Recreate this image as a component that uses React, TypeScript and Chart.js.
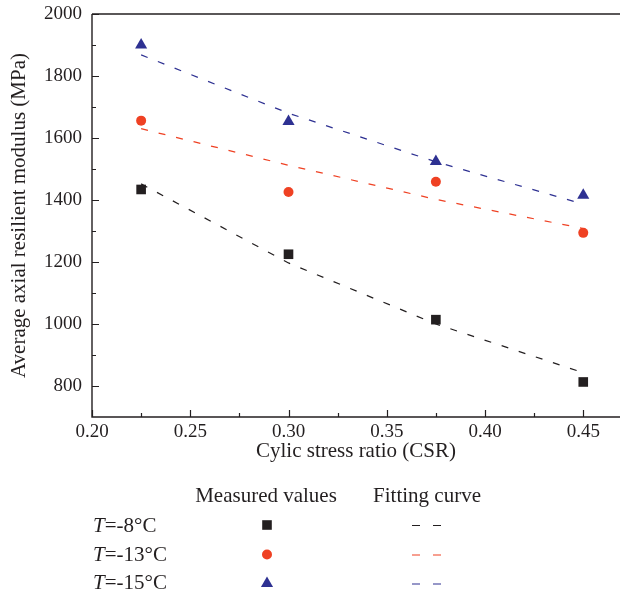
import React, { useEffect, useRef } from 'react';
import { Chart, registerables } from 'chart.js';

Chart.register(...registerables);

// ---- data ----
const csr = [0.225, 0.3, 0.375, 0.45];
const measuredM8 = [1434, 1225, 1014, 813];
const measuredM13 = [1656, 1426, 1459, 1294];
const measuredM15 = [1900, 1653, 1524, 1415];
const fitM8 = [1452, 1197, 1000, 843];
const fitM13 = [1630, 1512, 1402, 1308];
const fitM15 = [1868, 1680, 1523, 1387];
const seriesTemps = ['-8', '-13', '-15'];
const seriesColors = ['#231f20', '#ef4123', '#2e3192'];
const seriesMarkers = ['rect', 'circle', 'triangle'];
const xTicks = [0.2, 0.25, 0.3, 0.35, 0.4, 0.45];
const xTickLabels = ['0.20', '0.25', '0.30', '0.35', '0.40', '0.45'];
const xMinorTicks = [0.225, 0.275, 0.325, 0.375, 0.425];
const yTicks = [800, 1000, 1200, 1400, 1600, 1800, 2000];
const yTickLabels = ['800', '1000', '1200', '1400', '1600', '1800', '2000'];
const yMinorTicks = [900, 1100, 1300, 1500, 1700, 1900];
const xTitle = 'Cylic stress ratio (CSR)';
const yTitle = 'Average axial resilient modulus (MPa)';
const legendHeaders = ['Measured values', 'Fitting curve'];

const FONT = '"Liberation Serif", "Times New Roman", serif';
const INK = '#231f20';

const pts = (ys: number[]) => csr.map((x, i) => ({ x, y: ys[i] }));

function drawMarker(ctx: CanvasRenderingContext2D, style: string, x: number, y: number, color: string) {
  ctx.save();
  ctx.fillStyle = color;
  ctx.beginPath();
  if (style === 'rect') {
    ctx.rect(x - 4.8, y - 4.8, 9.6, 9.6);
  } else if (style === 'circle') {
    ctx.arc(x, y, 5, 0, Math.PI * 2);
  } else {
    const r = 7;
    ctx.moveTo(x, y - r);
    ctx.lineTo(x + Math.sin((2 * Math.PI) / 3) * r, y + r / 2);
    ctx.lineTo(x - Math.sin((2 * Math.PI) / 3) * r, y + r / 2);
    ctx.closePath();
  }
  ctx.fill();
  ctx.restore();
}

const framePlugin = {
  id: 'frame',
  afterDatasetsDraw(chart: any) {
    const { ctx, chartArea } = chart;
    const xs = chart.scales.x;
    const ys = chart.scales.y;
    const { left, right, top, bottom } = chartArea;
    ctx.save();
    ctx.strokeStyle = INK;
    ctx.lineWidth = 1.4;
    // axes
    ctx.beginPath();
    ctx.moveTo(left, top);
    ctx.lineTo(left, bottom);
    ctx.lineTo(right, bottom);
    ctx.stroke();
    ctx.beginPath();
    ctx.moveTo(left, top);
    ctx.lineTo(right, top);
    ctx.stroke();
    // ticks (inward)
    ctx.lineWidth = 1.2;
    ctx.beginPath();
    xTicks.forEach((v) => {
      const px = Math.round(xs.getPixelForValue(v)) + 0.5;
      ctx.moveTo(px, bottom);
      ctx.lineTo(px, bottom - 7);
    });
    xMinorTicks.forEach((v) => {
      const px = Math.round(xs.getPixelForValue(v)) + 0.5;
      ctx.moveTo(px, bottom);
      ctx.lineTo(px, bottom - 4);
    });
    yTicks.forEach((v) => {
      const py = Math.round(ys.getPixelForValue(v)) + 0.5;
      ctx.moveTo(left, py);
      ctx.lineTo(left + 7, py);
    });
    yMinorTicks.forEach((v) => {
      const py = Math.round(ys.getPixelForValue(v)) + 0.5;
      ctx.moveTo(left, py);
      ctx.lineTo(left + 4, py);
    });
    ctx.stroke();

    // legend table
    ctx.fillStyle = INK;
    ctx.textBaseline = 'alphabetic';
    ctx.font = `21px ${FONT}`;
    ctx.textAlign = 'center';
    ctx.fillText(legendHeaders[0], 266, 502);
    ctx.fillText(legendHeaders[1], 427, 502);
    const rowBase = [531.5, 560.5, 589];
    const rowMid = [525, 554.5, 583.5];
    seriesTemps.forEach((t, i) => {
      ctx.textAlign = 'left';
      ctx.fillStyle = INK;
      ctx.font = `italic 21px ${FONT}`;
      ctx.fillText('T', 93, rowBase[i]);
      const w = ctx.measureText('T').width;
      ctx.font = `21px ${FONT}`;
      ctx.fillText(`=${t}°C`, 93 + w, rowBase[i]);
      drawMarker(ctx, seriesMarkers[i], 267, rowMid[i], seriesColors[i]);
      ctx.strokeStyle = seriesColors[i];
      ctx.lineWidth = 1.2;
      ctx.beginPath();
      ctx.moveTo(412, rowMid[i] + 0.5);
      ctx.lineTo(420, rowMid[i] + 0.5);
      ctx.moveTo(433, rowMid[i] + 0.5);
      ctx.lineTo(441, rowMid[i] + 0.5);
      ctx.stroke();
    });
    ctx.restore();
  },
};

export default function App() {
  const ref = useRef<HTMLCanvasElement | null>(null);
  useEffect(() => {
    if (!ref.current) return;
    const measured = [measuredM8, measuredM13, measuredM15];
    const fits = [fitM8, fitM13, fitM15];
    const datasets: any[] = [];
    measured.forEach((m, i) => {
      datasets.push({
        label: `T=${seriesTemps[i]}°C measured`,
        data: pts(m),
        showLine: false,
        pointStyle: seriesMarkers[i],
        pointRadius: seriesMarkers[i] === 'rect' ? 6.8 : seriesMarkers[i] === 'circle' ? 5 : 7,
        backgroundColor: seriesColors[i],
        borderColor: seriesColors[i],
        pointBorderWidth: 0,
        clip: false,
      });
    });
    fits.forEach((f, i) => {
      datasets.push({
        label: `T=${seriesTemps[i]}°C fitting`,
        data: pts(f),
        showLine: true,
        pointRadius: 0,
        borderColor: seriesColors[i],
        borderWidth: 1.25,
        borderDash: [7, 11],
        fill: false,
        tension: 0,
      });
    });
    const chart = new Chart(ref.current, {
      type: 'scatter',
      data: { datasets },
      options: {
        animation: false,
        responsive: false,
        events: [],
        layout: { autoPadding: false, padding: { top: 14, right: 0, bottom: 129, left: 0 } },
        plugins: { legend: { display: false }, tooltip: { enabled: false } },
        scales: {
          x: {
            type: 'linear',
            min: 0.2,
            max: 0.4687,
            grid: { display: false, drawTicks: false },
            border: { display: false },
            afterBuildTicks: (s: any) => {
              s.ticks = xTicks.map((v) => ({ value: v }));
            },
            afterFit: (s: any) => {
              s.height = 50;
              s.paddingLeft = 0;
              s.paddingRight = 0;
            },
            ticks: {
              padding: 4,
              color: INK,
              font: { family: FONT, size: 19 },
              maxRotation: 0,
              autoSkip: false,
              callback: (v: any) => xTickLabels[xTicks.indexOf(Number(v))] ?? '',
            },
            title: {
              display: true,
              text: xTitle,
              color: INK,
              font: { family: FONT, size: 21 },
              padding: { top: 0, bottom: 2.5 },
            },
          },
          y: {
            type: 'linear',
            min: 700,
            max: 2000,
            grid: { display: false, drawTicks: false },
            border: { display: false },
            afterBuildTicks: (s: any) => {
              s.ticks = yTicks.map((v) => ({ value: v }));
            },
            afterFit: (s: any) => {
              s.width = 92;
              s.paddingTop = 0;
              s.paddingBottom = 0;
            },
            ticks: {
              padding: 10,
              color: INK,
              font: { family: FONT, size: 19 },
              autoSkip: false,
              callback: (v: any) => yTickLabels[yTicks.indexOf(Number(v))] ?? '',
            },
            title: {
              display: true,
              text: yTitle,
              color: INK,
              font: { family: FONT, size: 21 },
              padding: { top: 7, bottom: 0 },
            },
          },
        },
      },
      plugins: [framePlugin],
    });
    return () => chart.destroy();
  }, []);
  return (
    <div style={{ position: 'absolute', left: 0, top: 0, width: 620, height: 596, background: '#fff' }}>
      <canvas ref={ref} width={620} height={596} style={{ display: 'block' }} />
    </div>
  );
}
